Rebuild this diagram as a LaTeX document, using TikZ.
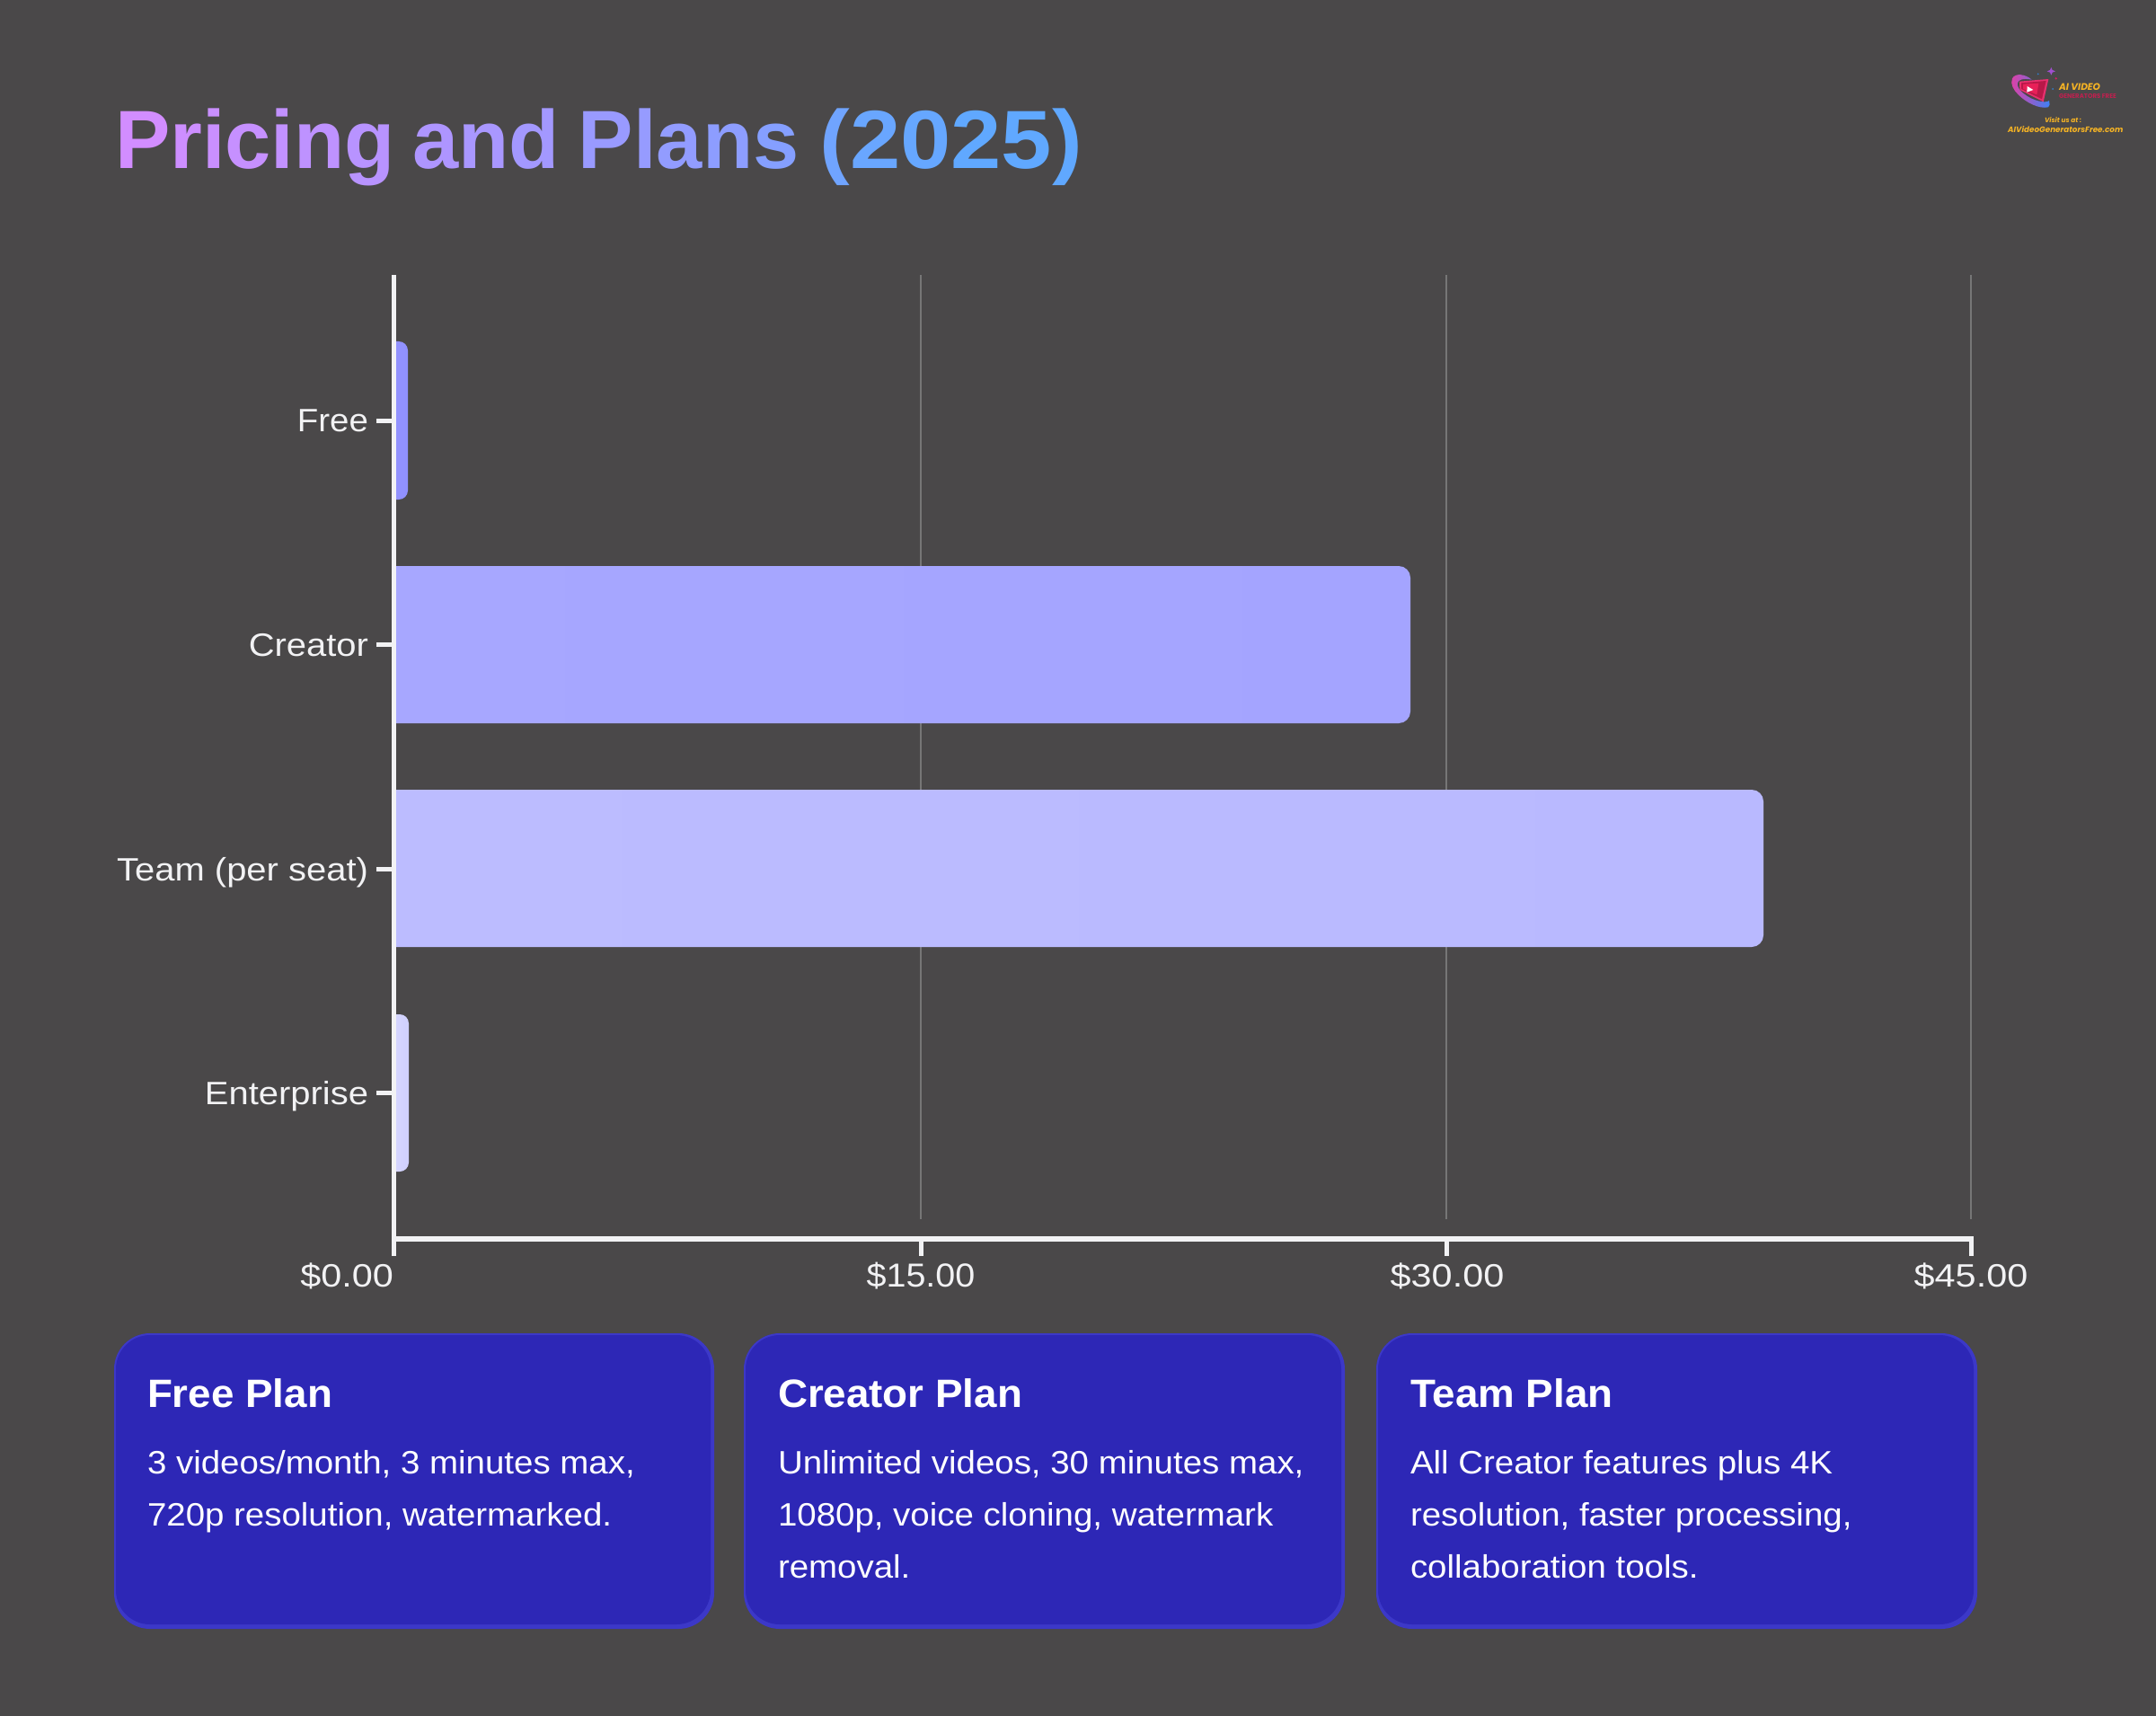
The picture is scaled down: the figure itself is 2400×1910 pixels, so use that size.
\documentclass[tikz,border=0pt]{standalone}
\usepackage{fontspec}
\setmainfont{Liberation Sans}
\newfontfamily\bodyfont[FakeStretch=1.068]{Liberation Sans}
\newfontfamily\cardhead[FakeStretch=1.04]{Liberation Sans}
\newfontfamily\catfont[FakeStretch=1.11]{Liberation Sans}
\newfontfamily\valfont[FakeStretch=1.15]{Liberation Sans}
\newfontfamily\titledigits[FakeStretch=1.10]{Liberation Sans}
\newfontfamily\logofont{Poppins}
\definecolor{bgc}{HTML}{4A4849}
\definecolor{tl}{HTML}{D58CFF}
\definecolor{tr}{HTML}{60A8FF}
\definecolor{axisc}{HTML}{F2F2F4}
\definecolor{gridc}{HTML}{767676}
\definecolor{cardc}{HTML}{2D27B6}
\definecolor{cardedge}{HTML}{3C38C8}
\definecolor{logoy}{HTML}{F5B324}
\definecolor{logor}{HTML}{C0204F}
\definecolor{barfreeL}{HTML}{9292FF}
\definecolor{barfreeR}{HTML}{9090FF}
\definecolor{barcreaL}{HTML}{A7A7FF}
\definecolor{barcreaR}{HTML}{A4A4FF}
\definecolor{barteamL}{HTML}{BCBCFF}
\definecolor{barteamR}{HTML}{B9B9FF}
\definecolor{barentL}{HTML}{D5D5FF}
\definecolor{barentR}{HTML}{D0D0FF}
\definecolor{lgpink}{HTML}{E23FA5}
\definecolor{lgblue}{HTML}{3B82F6}
\definecolor{lgred}{HTML}{E8306E}
\definecolor{lgdark}{HTML}{B81848}
\definecolor{lgredb}{HTML}{E82058}
\definecolor{lgstar}{HTML}{A04FD0}
\definecolor{lgdot}{HTML}{2F80D0}
\definecolor{lgdotr}{HTML}{D02060}
\newcommand{\gl}[2]{{\color{tr!#1!tl}#2}}
\newcommand{\pxfont}[1]{\fontsize{#1}{#1}\selectfont}
\tikzset{
  catlbl/.style={inner sep=0pt,outer sep=0pt,text=axisc,anchor=base east,font=\catfont\pxfont{18}},
  vallbl/.style={inner sep=0pt,outer sep=0pt,text=axisc,font=\valfont\pxfont{18}},
  cardtitle/.style={inner sep=0pt,outer sep=0pt,anchor=base west,text=white,font=\cardhead\bfseries\pxfont{22}},
  cardtext/.style={inner sep=0pt,outer sep=0pt,anchor=base west,text=white,font=\bodyfont\pxfont{18}},
  logotext/.style={inner sep=0pt,outer sep=0pt,anchor=base west},
  axisline/.style={draw=axisc,line width=2.5pt},
  gridline/.style={draw=gridc,line width=1pt},
}
\newcommand{\planbar}[6]{% y0 y1 xr radius-px left right
  \shade[left color=#5,right color=#6] (441,#1) -- ({#3-#4},#1)
    .. controls ({#3-0.45*#4},#1) and (#3,{#1+0.45*#4}) .. (#3,{#1+#4})
    -- (#3,{#2-#4})
    .. controls (#3,{#2-0.45*#4}) and ({#3-0.45*#4},#2) .. ({#3-#4},#2)
    -- (441,#2) -- cycle;
}
\newcommand{\plancard}[2]{% x0 x1
  \fill[cardedge,rounded corners=20pt] (#1,1484) rectangle (#2,1813);
  \fill[cardc,rounded corners=19pt] ({#1+2},1486) rectangle ({#2-4},1808);
}
\begin{document}
\begin{tikzpicture}[x=0.5pt,y=-0.5pt]
\useasboundingbox (0,0) rectangle (2400,1910);
\fill[bgc] (0,0) rectangle (2400,1910);

% title
\node[inner sep=0pt,outer sep=0pt,anchor=base west,font=\bfseries\pxfont{46}] (title) at (128,188)
 {\gl{3}{P}\gl{7}{r}\gl{10}{i}\gl{13}{c}\gl{16}{i}\gl{20}{n}\gl{25}{g} \hspace{-3pt}\gl{33}{a}\gl{38}{n}\gl{43}{d} \hspace{-2.3pt}\gl{51}{P}\gl{54}{l}\gl{57}{a}\gl{62}{n}\gl{68}{s} \hspace{-1.3pt}{\titledigits\gl{86}{(}\gl{92}{2}\gl{95}{0}\gl{100}{2}\gl{100}{5}\gl{100}{)}}};

% grid
\coordinate (g15t) at (1025,306); \coordinate (g15b) at (1025,1357);
\coordinate (g30t) at (1610,306); \coordinate (g30b) at (1610,1357);
\coordinate (g45t) at (2194,306); \coordinate (g45b) at (2194,1357);
\draw[gridline] (g15t) -- (g15b);
\draw[gridline] (g30t) -- (g30b);
\draw[gridline] (g45t) -- (g45b);

% bars
\planbar{380}{556}{454}{10}{barfreeL}{barfreeR}
\planbar{630}{805}{1570}{13}{barcreaL}{barcreaR}
\planbar{879}{1054}{1963}{13}{barteamL}{barteamR}
\planbar{1129}{1304}{455}{10}{barentL}{barentR}

% axes
\coordinate (ytop) at (438.5,306); \coordinate (ybot) at (438.5,1398);
\coordinate (xl) at (441,1379); \coordinate (xr) at (2197,1379);
\draw[axisline] (ytop) -- (ybot);
\draw[axisc,line width=3pt] (xl) -- (xr);
\foreach \y in {468,717,967,1216} \draw[axisc,line width=2.5pt] (419,\y) -- (436,\y);
\foreach \x in {1025,1610,2194} \draw[axisc,line width=2.5pt] (\x,1379) -- (\x,1398);

% category labels
\node[catlbl,font=\bodyfont\pxfont{18}] (free) at (410,480) {Free};
\node[catlbl] (creator) at (410,730) {Creator};
\node[catlbl] (team) at (410,980) {Team (per seat)};
\node[catlbl] (ent) at (410,1229) {Enterprise};

% value labels
\node[vallbl,anchor=base east] (v0) at (438,1432) {\$0.00};
\node[vallbl,anchor=base,font=\bodyfont\pxfont{18.5}] (v15) at (1025,1432) {\$15.00};
\node[vallbl,anchor=base] (v30) at (1611,1432) {\$30.00};
\node[vallbl,anchor=base] (v45) at (2194,1432) {\$45.00};

% cards
\plancard{127}{795}
\plancard{828}{1497}
\plancard{1532}{2201}
\node[cardtitle] (c1t) at (164,1566) {Free Plan};
\node[cardtext] (c1a) at (164,1640) {3 videos/month, 3 minutes max,};
\node[cardtext] (c1b) at (164,1698) {720p resolution, watermarked.};
\node[cardtitle] (c2t) at (866,1566) {Creator Plan};
\node[cardtext] (c2a) at (866,1640) {Unlimited videos, 30 minutes max,};
\node[cardtext] (c2b) at (866,1698) {1080p, voice cloning, watermark};
\node[cardtext] (c2c) at (866,1756) {removal.};
\node[cardtitle] (c3t) at (1570,1566) {Team Plan};
\node[cardtext] (c3a) at (1570,1640) {All Creator features plus 4K};
\node[cardtext] (c3b) at (1570,1698) {resolution, faster processing,};
\node[cardtext] (c3c) at (1570,1756) {collaboration tools.};

% logo
\begin{scope}[shift={(2180,50)},x=0.16667pt,y=-0.16667pt]
  \shade[left color=lgpink,right color=lgblue]
    (245,116) .. controls (225,98) and (190,92) .. (180,112)
    .. controls (172,130) and (185,152) .. (200,166)
    .. controls (225,192) and (270,215) .. (300,208)
    .. controls (306,205) and (306,195) .. (303,186)
    .. controls (295,195) and (250,190) .. (215,160)
    .. controls (190,140) and (185,105) .. (245,116) -- cycle;
  \fill[lgred] (204,122) -- (301,114) -- (284,190) -- (205,150) -- cycle;
  \fill[lgdark] (210,127) -- (293,120) -- (279,181) -- (210,147) -- cycle;
  \fill[lgredb] (216,131) -- (268,128) -- (262,166) -- (216,147) -- cycle;
  \fill[white] (230,138) -- (250,150) -- (229,158) -- cycle;
  \fill[lgstar] (310,75) -- (314,84) -- (324,88) -- (314,92) -- (310,101) -- (306,92) -- (296,88) -- (306,84) -- cycle;
  \fill[lgdot] (266,97) circle (3);
  \fill[lgdotr] (326,112) circle (4);
  \fill[lgdot] (315,147) circle (3);
\end{scope}
\node[logotext,text=logoy,font=\logofont\bfseries\itshape\pxfont{5.3}] (lg1) at (2292,100.5) {AI VIDEO};
\node[logotext,text=logor,font=\logofont\bfseries\pxfont{3.5}] (lg2) at (2292,110) {GENERATORS FREE};
\node[logotext,text=logoy,font=\logofont\bfseries\itshape\pxfont{3.7}] (lg3) at (2276,136.5) {Visit us at :};
\node[logotext,text=logoy,font=\logofont\bfseries\itshape\pxfont{4.4}] (lg4) at (2235,147.5) {AIVideoGeneratorsFree.com};
\end{tikzpicture}
\end{document}
